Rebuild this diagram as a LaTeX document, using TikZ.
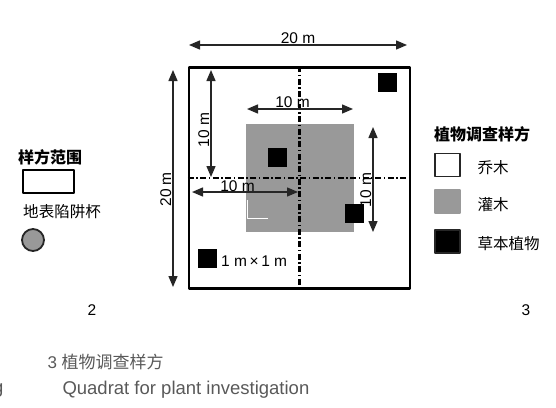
\documentclass[tikz,border=0pt]{standalone}
\usepackage{fontspec}
\setmainfont{Liberation Sans}
\newfontfamily\cjk{Noto Sans CJK SC}
\usetikzlibrary{arrows.meta}

\begin{document}
\begin{tikzpicture}[x=1pt, y=-1pt, font=\fontsize{15.5}{17}\selectfont, line join=round,
		dimline/.style={{Triangle[length=11pt,width=9pt]}-{Triangle[length=11pt,width=9pt]}, line width=1.4pt, draw=black!85},
		dashdot/.style={line width=2.2pt, dash pattern=on 6pt off 2.5pt on 1.5pt off 2.5pt},
		herb/.style={fill=black, minimum size=19pt, inner sep=0pt},
		keybox/.style={draw=black!85, line width=1.6pt, minimum width=25pt, minimum height=23pt, inner sep=0pt},
		zh/.style={font=\fontsize{15.5}{17}\selectfont\cjk},
		zhb/.style={font=\fontsize{16}{18}\selectfont\cjk\bfseries},
		lbl/.style={inner sep=1pt}]
	\useasboundingbox (0,0) rectangle (556,407);
	% quadrat
	\node[draw, line width=2.2pt, minimum size=221pt, inner sep=0pt] (plot) at (299.5,178) {};
	\node[fill=black!40, minimum size=108pt, inner sep=0pt] (shrub) at (300,178) {};
	\draw[white, line width=0.8pt] (247,200) -- (247,218) -- (268,218);
	\draw[dashdot] (plot.north) -- (plot.south);
	\draw[dashdot] (plot.west) -- (plot.east);
	\foreach \n/\x/\y in {a/387/82.5, b/277/157.5, c/354/213.5, d/207.5/258}
		\node[herb] (herb\n) at (\x,\y) {};
	\node[anchor=west, inner sep=0pt] (herbsize) at (221,261) {1 m\,×\,1 m};
	% dimensions
	\coordinate (top1) at (189,45); \coordinate (top2) at (407,45);
	\coordinate (lft1) at (173,70); \coordinate (lft2) at (173,287);
	\coordinate (in1) at (211,70); \coordinate (in2) at (211,177);
	\coordinate (sh1) at (247,109); \coordinate (sh2) at (353,109);
	\coordinate (hz1) at (192,192); \coordinate (hz2) at (298,192);
	\coordinate (rt1) at (373,127); \coordinate (rt2) at (373,232);
	\draw[dimline] (top1) -- node[lbl, above] (toplbl) {20 m} (top2);
	\draw[dimline] (lft1) -- node[lbl, pos=0.55, rotate=90, anchor=south] (lftlbl) {20 m} (lft2);
	\draw[dimline] (in1) -- node[lbl, pos=0.56, rotate=90, anchor=south] (inlbl) {10 m} (in2);
	\draw[dimline] (sh1) -- node[lbl, pos=0.43, above] (shlbl) {10 m} (sh2);
	\draw[dimline] (hz1) -- node[lbl, pos=0.43, above, inner sep=0pt] (hzlbl) {10 m} (hz2);
	\draw[dimline] (rt1) -- node[lbl, pos=0.6, rotate=90, anchor=south] (rtlbl) {10 m} (rt2);
	% left legend
	\node[zhb] (plotkey) at (50,157) {样方范围};
	\node[draw, line width=2pt, minimum width=51pt, minimum height=23pt, inner sep=0pt] (plotbox) at (48.5,181.5) {};
	\node[zh] (trapkey) at (62,212) {地表陷阱杯};
	\node[circle, draw=black!85, fill=black!40, line width=1.8pt, minimum size=22pt, inner sep=0pt] (trap) at (33,240) {};
	\node (num2) at (92,310) {2};
	% right legend
	\node[zhb] (keytitle) at (482,134) {植物调查样方};
	\node[keybox, fill=white] (treebox) at (447.5,165) {};
	\node[keybox, fill=black!40, draw=black!40] (shrubbox) at (447.5,201.5) {};
	\node[keybox, fill=black] (herbbox) at (447.5,241.5) {};
	\node[zh, anchor=west] (treekey) at (474,168) {乔木};
	\node[zh, anchor=west] (shrubkey) at (474,205) {灌木};
	\node[zh, anchor=west] (herbkey) at (474,244) {草本植物};
	\node (num3) at (526,310) {3};
	% caption
	\node[anchor=west, text=black!65, font=\fontsize{17}{19}\selectfont] (capzh) at (44,362) {3 {\cjk 植物调查样方}};
	\node[anchor=west, text=black!65, font=\fontsize{18.5}{20}\selectfont] (capen) at (59,390) {Quadrat for plant investigation};
	\node[anchor=east, text=black!65, font=\fontsize{18.5}{20}\selectfont] (capcut) at (7,390) {g};
\end{tikzpicture}
\end{document}
